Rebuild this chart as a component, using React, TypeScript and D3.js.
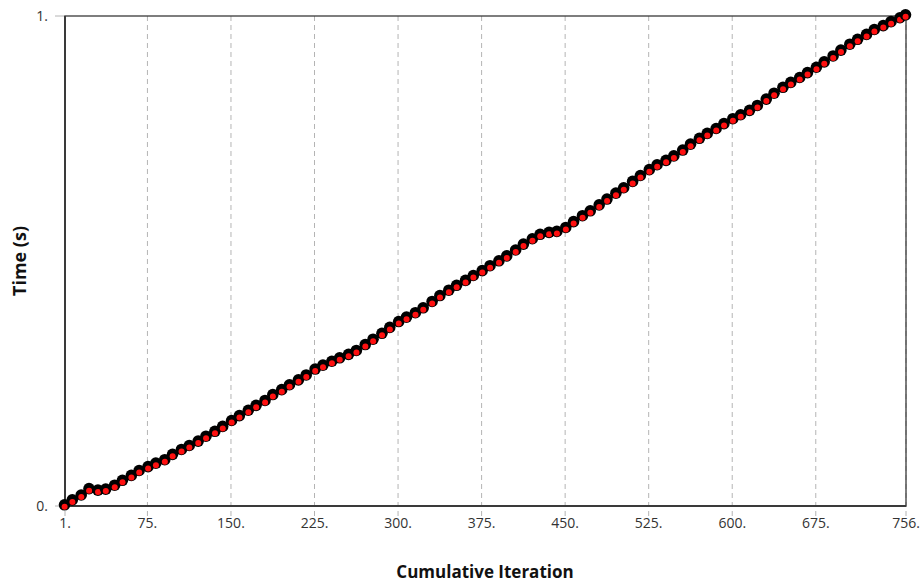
import React from 'react'
import * as d3 from 'd3'

// cumulative iteration of each sample
const iterations = [
  1, 8, 16, 23, 31, 38, 46, 53, 61, 68, 76, 83, 91, 98, 106, 113, 121, 128, 136, 143,
  151, 158, 166, 173, 181, 188, 196, 203, 211, 218, 226, 233, 241, 248, 256, 263, 271, 278, 286, 293,
  301, 308, 316, 323, 331, 338, 346, 353, 361, 368, 376, 383, 391, 398, 406, 413, 421, 428, 436, 443,
  451, 458, 466, 473, 481, 488, 496, 503, 511, 518, 526, 533, 541, 548, 556, 563, 571, 578, 586, 593,
  601, 608, 616, 623, 631, 638, 646, 653, 661, 668, 676, 683, 691, 698, 706, 713, 721, 728, 736, 743,
  751, 756,
]

// normalised time (s) at each sample
const times = [
  0.0, 0.01, 0.02, 0.033, 0.03, 0.032, 0.04, 0.05, 0.06, 0.07, 0.078, 0.085, 0.092, 0.103, 0.113, 0.121, 0.13, 0.14, 0.15, 0.16,
  0.172, 0.182, 0.193, 0.203, 0.213, 0.225, 0.235, 0.245, 0.255, 0.265, 0.277, 0.285, 0.293, 0.3, 0.307, 0.315, 0.327, 0.338, 0.35, 0.362,
  0.374, 0.383, 0.392, 0.402, 0.415, 0.427, 0.438, 0.448, 0.458, 0.468, 0.478, 0.488, 0.498, 0.508, 0.52, 0.532, 0.543, 0.552, 0.556, 0.558,
  0.566, 0.578, 0.59, 0.6, 0.612, 0.624, 0.636, 0.647, 0.66, 0.672, 0.684, 0.694, 0.703, 0.712, 0.724, 0.736, 0.748, 0.758, 0.768, 0.778,
  0.788, 0.796, 0.805, 0.815, 0.828, 0.84, 0.852, 0.862, 0.872, 0.882, 0.893, 0.904, 0.916, 0.928, 0.94, 0.95, 0.96, 0.97, 0.978, 0.986,
  0.994, 1.0,
]

const xTicks = [1, 75, 150, 225, 300, 375, 450, 525, 600, 675, 756]
const yTicks = [0, 1]

const W = 920
const H = 583
const margin = { top: 16, right: 14, bottom: 77, left: 65 }

export default function App() {
  const x = d3.scaleLinear().domain([1, 756]).range([margin.left, W - margin.right])
  const y = d3.scaleLinear().domain([0, 1]).range([H - margin.bottom, margin.top])
  const font = '"Segoe UI", "Open Sans", "Noto Sans", sans-serif'
  const x0 = margin.left, x1 = W - margin.right
  const y0 = H - margin.bottom, y1 = margin.top

  const pts = iterations.map((it, i) => ({ it, t: times[i] }))

  return (
    <svg width={W} height={H} style={{ position: 'absolute', left: 0, top: 0 }} fontFamily={font}>
      <rect width={W} height={H} fill="#fff" />
      {/* vertical dashed grid + tick stubs */}
      {xTicks.map(t => (
        <line key={'g' + t} x1={x(t)} x2={x(t)} y1={y1} y2={y0 + 10}
          stroke="#b4b4b4" strokeWidth={1} strokeDasharray="5,4" />
      ))}
      {yTicks.map(t => (
        <line key={'yt' + t} x1={x0 - 10} x2={x0} y1={y(t)} y2={y(t)} stroke="#b4b4b4" strokeWidth={1} />
      ))}
      {/* frame */}
      <rect x={x0} y={y1} width={x1 - x0} height={y0 - y1} fill="none" stroke="#3a3a3a" strokeWidth={1.3} />
      <line x1={x0} x2={x0} y1={y1} y2={y0} stroke="#3a3a3a" strokeWidth={2} />
      <line x1={x0} x2={x1} y1={y0} y2={y0} stroke="#3a3a3a" strokeWidth={2} />
      {/* markers: black disc then red centre, so the next disc covers part of the previous red */}
      {pts.map((p, i) => (
        <g key={i} transform={`translate(${x(p.it)},${y(p.t)})`}>
          <circle cx={-0.5} cy={-1.2} r={5.8} fill="#000" />
          <circle cx={-0.4} cy={0.8} r={3} fill="#ff1010" />
        </g>
      ))}
      {/* tick labels */}
      {xTicks.map(t => (
        <text key={'xl' + t} x={x(t)} y={y0 + 22} textAnchor="middle" fontSize={14} fill="#333">{t}.</text>
      ))}
      {yTicks.map(t => (
        <text key={'yl' + t} x={x0 - 17} y={y(t) + 5} textAnchor="end" fontSize={14} fill="#333">{t}.</text>
      ))}
      {/* axis titles */}
      <text x={485} y={578} textAnchor="middle" fontSize={17} fontWeight="bold" fill="#111">Cumulative Iteration</text>
      <text transform={`translate(26,${(y0 + y1) / 2}) rotate(-90)`} textAnchor="middle" fontSize={18}
        fontWeight="bold" fill="#111">Time (s)</text>
    </svg>
  )
}
